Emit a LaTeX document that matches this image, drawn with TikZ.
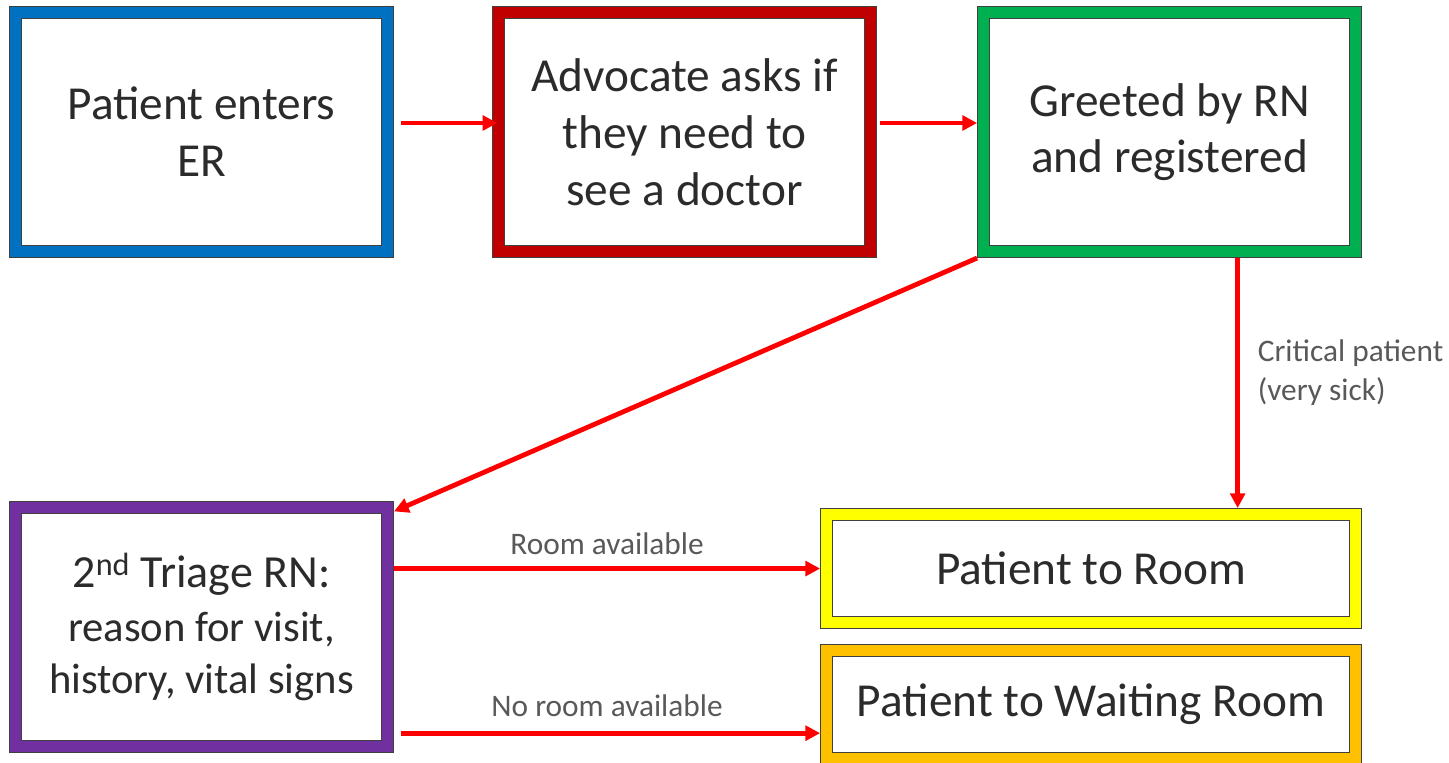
\documentclass[tikz,border=0pt]{standalone}
\usepackage{fontspec}
\setmainfont{Carlito}
\usetikzlibrary{positioning, arrows.meta}

\definecolor{ink}{HTML}{2B2B2B}
\definecolor{note}{HTML}{595959}
\definecolor{edge}{HTML}{404040}
\definecolor{erblue}{HTML}{0070C0}
\definecolor{erred}{HTML}{C00000}
\definecolor{ergreen}{HTML}{00B050}
\definecolor{erpurple}{HTML}{7030A0}
\definecolor{eryellow}{HTML}{FFFF00}
\definecolor{erorange}{HTML}{FFC000}
\definecolor{arrowred}{HTML}{FF0000}

\begin{document}
\begin{tikzpicture}[
    node distance=73.5pt,
    stage/.style={
        draw=edge,
        line width=0.9pt,
        double=#1,
        double distance=8.25pt,
        fill=white,
        minimum width=279pt,
        minimum height=179.25pt,
        inner sep=0pt,
        outer sep=4.9pt,
        align=center,
        text=ink,
        font=\fontsize{35.5}{42.75}\selectfont
    },
    outcome/.style={stage=#1, minimum width=396.75pt, minimum height=81pt},
    flow/.style={draw=arrowred, line width=3.6pt,
        -{Triangle[length=11pt, width=11pt]}},
    note/.style={text=note, font=\fontsize{23.5}{29.25}\selectfont}
]

\useasboundingbox (0,0) rectangle (1086.75pt,-572.25pt);

%% ── Top row ──────────────────────────────────────────────────────────────────

\node[stage=erblue] (entry) at (151.125pt,-99pt)
    {Patient enters\\ER};

\node[stage=erred, right=of entry] (advocate)
    {Advocate asks if\\they need to\\see a doctor};

\node[stage=ergreen, right=75pt of advocate] (greeted)
    {Greeted by RN\\[-1pt]and registered};

%% ── Bottom row ───────────────────────────────────────────────────────────────

\node[stage=erpurple, below=182.25pt of entry,
      font=\fontsize{32}{38.5}\selectfont] (triage)
    {{\fontsize{34.5}{38.5}\selectfont 2\textsuperscript{nd} Triage RN:}\\[2pt]
     reason for visit,\\history, vital signs};

\node[outcome=eryellow, below=187.5pt of greeted.south east,
      anchor=north east] (toroom)
    {Patient to Room};

\node[outcome=erorange, below=11.25pt of toroom] (towait)
    {Patient to Waiting Room};

%% ── Top row flow ─────────────────────────────────────────────────────────────
\draw[flow, shorten <=5pt] ([yshift=6.75pt]entry.east)
    -- ([xshift=4pt, yshift=6.75pt]advocate.west);

\draw[flow, shorten <=2pt] ([yshift=6.75pt]advocate.east)
    -- ([yshift=6.75pt]greeted.west);

%% ── Registered → triage / critical ──────────────────────────────────────────
\draw[flow] (greeted.south west) -- (triage.31);

\draw[flow] ([xshift=51pt]greeted.south)
    -- ([xshift=51pt]greeted.south |- toroom.north)
    node[note, pos=0.46, right=10pt, align=left]
    {Critical patient\\(very sick)};

%% ── Triage → room / waiting room ─────────────────────────────────────────────
\draw[flow] (triage.east |- toroom.west)
    -- node[note, above=5pt]{Room available} (toroom.west);

\coordinate (waitin) at ([yshift=-21.4pt]towait.west);
\draw[flow, shorten <=5pt] (triage.east |- waitin)
    -- node[note, above=7pt]{No room available} (waitin);

\end{tikzpicture}
\end{document}
